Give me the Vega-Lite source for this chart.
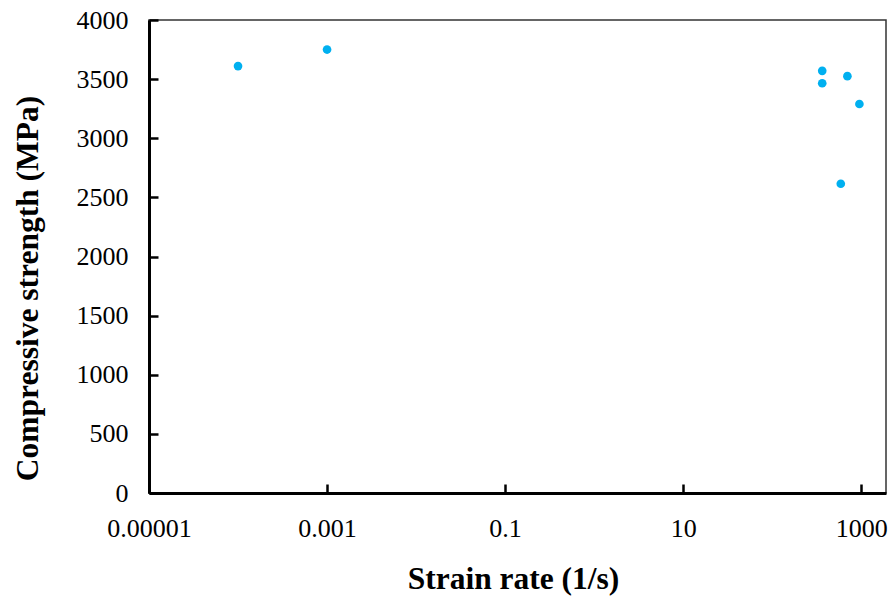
{
  "$schema": "https://vega.github.io/schema/vega-lite/v6.json",
  "width": 737,
  "height": 473,
  "autosize": {"type": "none"},
  "padding": {"left": 149, "top": 20, "right": 5, "bottom": 106},
  "background": "white",
  "data": {
    "values": [
      {"rate": 0.0001, "strength": 3610},
      {"rate": 0.001, "strength": 3750},
      {"rate": 365, "strength": 3570},
      {"rate": 365, "strength": 3465},
      {"rate": 700, "strength": 3525},
      {"rate": 955, "strength": 3290},
      {"rate": 590, "strength": 2615}
    ]
  },
  "resolve": {"axis": {"x": "independent", "y": "independent"}},
  "layer": [
    {
      "mark": {"type": "point", "filled": true, "shape": "circle", "size": 75, "color": "#00B0F0", "opacity": 1},
      "encoding": {
        "x": {
          "field": "rate",
          "type": "quantitative",
          "scale": {"type": "log", "domain": [0.00001, 1900], "nice": false},
          "axis": {
            "title": "Strain rate (1/s)",
            "titleFontSize": 31.5,
            "titleFontWeight": "bold",
            "titleColor": "black",
            "titleX": 364,
            "titleY": 95,
            "titleAlign": "center",
            "titleBaseline": "alphabetic",
            "values": [0.00001, 0.001, 0.1, 10, 1000],
            "format": "~r",
            "labelFontSize": 26,
            "labelColor": "black",
            "labelFlush": false,
            "labelOverlap": false,
            "labelPadding": 22,
            "ticks": false,
            "domainColor": "black",
            "domainWidth": 3,
            "grid": false
          }
        },
        "y": {
          "field": "strength",
          "type": "quantitative",
          "scale": {"domain": [0, 4000], "nice": false},
          "axis": {
            "title": "Compressive strength (MPa)",
            "titleFontSize": 31.5,
            "titleFontWeight": "bold",
            "titleColor": "black",
            "titleAngle": -90,
            "titleX": -112,
            "titleY": 268,
            "titleAlign": "center",
            "titleBaseline": "alphabetic",
            "values": [0, 500, 1000, 1500, 2000, 2500, 3000, 3500, 4000],
            "format": "d",
            "labelFontSize": 26,
            "labelColor": "black",
            "labelFlush": false,
            "labelOverlap": false,
            "labelPadding": 21,
            "ticks": false,
            "domainColor": "black",
            "domainWidth": 3,
            "grid": false
          }
        }
      }
    },
    {
      "mark": {"type": "point", "filled": true, "shape": "circle", "size": 75, "opacity": 0},
      "encoding": {
        "x": {
          "field": "rate",
          "type": "quantitative",
          "scale": {"type": "log", "domain": [0.00001, 1900], "nice": false},
          "axis": {
            "orient": "top",
            "offset": -473,
            "title": null,
            "values": [0.00001, 0.001, 0.1, 10, 1000],
            "labels": false,
            "domain": false,
            "grid": false,
            "ticks": true,
            "tickSize": 9,
            "tickWidth": 2.5,
            "tickColor": "black"
          }
        },
        "y": {
          "field": "strength",
          "type": "quantitative",
          "scale": {"domain": [0, 4000], "nice": false},
          "axis": {
            "orient": "right",
            "offset": -737,
            "title": null,
            "values": [0, 500, 1000, 1500, 2000, 2500, 3000, 3500, 4000],
            "labels": false,
            "domain": false,
            "grid": false,
            "ticks": true,
            "tickSize": 9,
            "tickWidth": 2.5,
            "tickColor": "black"
          }
        }
      }
    }
  ],
  "config": {
    "view": {"stroke": "#333333", "strokeWidth": 1.5},
    "font": "Liberation Serif",
    "axis": {"labelFont": "Liberation Serif", "titleFont": "Liberation Serif"}
  }
}
